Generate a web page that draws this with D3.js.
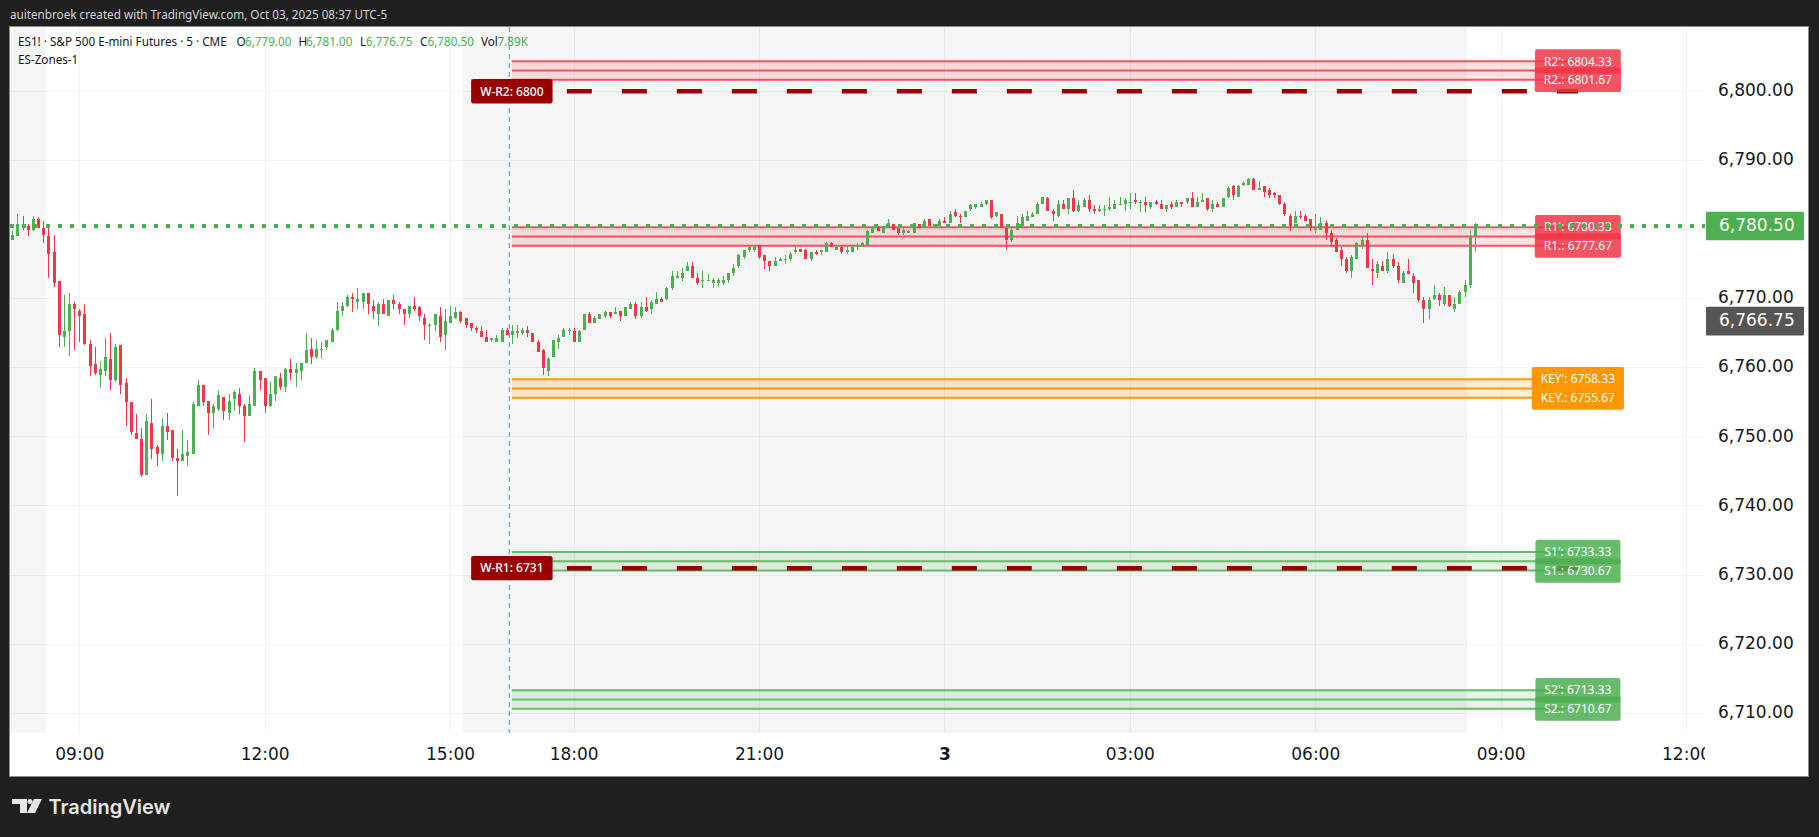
<!DOCTYPE html>
<html>
<head>
<meta charset="utf-8">
<script src="https://cdnjs.cloudflare.com/ajax/libs/d3/7.8.5/d3.min.js"></script>
<style>
  html, body { margin: 0; padding: 0; background: #1f1f1f; overflow: hidden; }
  text { font-family: "Noto Sans", sans-serif; }
  .axis text { font-family: "DejaVu Sans", sans-serif; font-size: 17px; fill: #131722; }
  .axis path { display: none; }
</style>
</head>
<body>
<script>
// 5 minute bars, first one is 07:55, last one is 08:35 next day (17:00-18:00 is the session break)
const opens = [
  6778.5,6779,6780.75,6780.5,6780,6781.5,6780.25,6779,6776.75,6772.5,
  6764.5,6765.25,6769.25,6768.25,6767.75,6763.5,6760.5,6759,6759.5,6761.25,
  6758.25,6763.25,6757.75,6755,6750.5,6749.75,6744.5,6752,6748.5,6747.5,
  6751.5,6751,6747,6746.5,6747.25,6747.5,6754.5,6757.5,6755.25,6753.5,
  6754,6755.75,6753.5,6755.5,6756.25,6754.5,6753,6754.5,6759.5,6758.5,
  6754.5,6756.25,6758.5,6757.25,6759.75,6759.25,6759.5,6760.75,6762.75,6761.5,
  6762.5,6763,6763.75,6765.5,6768.25,6769,6770.25,6769.5,6769.5,6770.75,
  6769,6767.75,6769.25,6767.5,6769.75,6769.25,6768.5,6767.75,6769,6768.75,
  6767.25,6766,6766.25,6767.5,6764.75,6766.5,6767.25,6768,6767.25,6766.5,
  6765.75,6765.25,6764.5,6764,6763.75,6763.75,6765.5,6764.75,6765,6765,
  6765.5,6765,6763.75,6762.5,6759.5,6761.5,6763.75,6764.5,6765.25,6765.25,
  6763.75,6765.5,6767.75,6766.5,6767,6767.5,6768,6767.75,6768.25,6767.5,
  6768.5,6769.25,6767.5,6768.75,6768.5,6769.25,6770,6770,6771.5,6773,
  6773,6774,6774.75,6773,6772.5,6772.5,6772.25,6772.25,6772.25,6772.75,
  6773.75,6774.75,6776,6777,6777,6777.75,6776.25,6775.5,6774.75,6775.5,
  6775.75,6775.75,6776.75,6777.25,6777,6775.75,6776.75,6776.75,6776.75,6778,
  6777,6777.5,6776.75,6776.75,6777.5,6777.5,6777.75,6779.5,6780.25,6779.5,
  6780.25,6780.75,6780.25,6779.5,6779.5,6779.5,6780.75,6780.25,6781.5,6780.5,
  6780.5,6781.25,6781,6782.5,6782,6781.75,6783,6783.25,6783.25,6783.75,
  6784.25,6782,6782.25,6780.25,6778.5,6780,6780.5,6781.25,6781.75,6782.25,
  6783.75,6784.5,6782.75,6782,6783.75,6783,6784.5,6782.75,6783.25,6784.25,
  6783,6782.75,6783,6783,6783,6783.75,6783.75,6784,6784.25,6784,
  6784,6783.25,6784,6783.75,6783,6783.75,6783.25,6784,6784,6784.5,
  6783.25,6784,6784.5,6783,6783.75,6783.25,6784.75,6786.25,6784.75,6786.5,
  6786.5,6787.25,6785.75,6786.25,6785.75,6785.25,6785,6783.75,6782,6781,
  6782,6782,6781.5,6780,6780,6781,6779.5,6778.5,6777,6775.75,
  6774,6775.75,6777.75,6778.5,6774.25,6773.75,6774.75,6774,6775.75,6774.75,
  6772.25,6774,6773.25,6772.75,6769.75,6768.5,6770,6770.5,6769.25,6770.5,
  6768.5,6769.25,6771,6772,6779
];
const highs = [
  6779.75,6782.25,6782,6780.75,6782,6781.75,6781.25,6780.25,6779.25,6772.5,
  6770.5,6770.75,6769.5,6768.5,6769.25,6764,6763,6761,6764.25,6765,
  6763.5,6763.25,6758.5,6755,6753.25,6751.25,6753.25,6755.5,6748.75,6752.75,
  6753.5,6751,6748.25,6751,6749.5,6755,6758.25,6757.5,6755.25,6754.75,
  6756.75,6755.75,6756.25,6756.75,6757,6754.75,6756,6760,6759.5,6758.5,
  6758,6758.75,6759.25,6760,6761.25,6760.75,6760.75,6765,6764.25,6764,
  6763.75,6764,6765.75,6769.5,6769.5,6770.5,6770.75,6771.5,6770.75,6770.75,
  6769.75,6769.5,6770,6769.75,6770.5,6769.5,6768.5,6769,6770.25,6769,
  6767.75,6766.5,6767.75,6768.75,6768.5,6769,6768.75,6768.25,6767.25,6766.5,
  6766,6766,6765.5,6764.25,6764.75,6765.75,6765.75,6766.25,6766.25,6765.75,
  6766,6765,6764,6762.75,6761.5,6764,6764.75,6765.75,6765.75,6765.75,
  6765.5,6767.75,6768,6767.5,6767.75,6768.25,6768,6768.75,6768.25,6768.75,
  6769.5,6769.5,6769.5,6770.25,6769.75,6771,6770.25,6771.75,6774,6774,
  6774.5,6775.25,6775.25,6773.75,6774,6773.5,6773,6773,6773.25,6773.75,
  6775,6776.5,6777,6777.75,6777.75,6777.75,6776.25,6775.5,6776,6776,
  6776.25,6776.75,6777.75,6777.25,6777.25,6776.75,6777,6777,6778.25,6778.25,
  6777.75,6777.75,6777.75,6777.75,6778,6778.25,6780,6780.5,6780.5,6780.5,
  6781.5,6780.75,6780.25,6780.25,6780,6781,6780.75,6781.5,6781.5,6780.75,
  6781.5,6781.75,6782.75,6783,6782.25,6782.75,6783.75,6783.75,6784,6784.25,
  6784.25,6782.5,6782.25,6780.25,6780.25,6782,6782.25,6782.75,6782.5,6784,
  6784.75,6784.75,6783,6784.25,6784.25,6784.5,6785.75,6784.25,6784.5,6785,
  6783.5,6783.5,6783.5,6784.75,6784.25,6784.75,6784.5,6785.25,6785.25,6784.25,
  6784.75,6784,6784.25,6784.25,6783.5,6784,6784.25,6784,6784.5,6785.5,
  6784.75,6785.25,6784.5,6784.25,6784,6784.5,6786.25,6786.5,6786.5,6787,
  6787.5,6787.5,6787,6786.25,6786,6785.5,6785,6784,6782.25,6782.75,
  6782.75,6782.25,6781.5,6782.25,6781.75,6781.25,6780,6778.75,6777.5,6776,
  6776.25,6778.25,6779,6779.5,6775.75,6775.5,6775.5,6776.75,6776.5,6775.25,
  6774,6775.75,6773.75,6772.75,6770.25,6770.25,6772,6770.75,6771.75,6770.5,
  6770.25,6771.25,6772.75,6780,6781
];
const lows = [
  6778.5,6779,6780,6779,6779.75,6780.25,6778,6773,6771.75,6763,
  6763,6761.75,6762.5,6763.75,6763.25,6758.75,6759,6757,6758.75,6756.75,
  6758,6756.25,6751.5,6750.25,6749.75,6744.25,6744.5,6746.75,6745.75,6746.5,
  6749.5,6746.5,6741.5,6746.5,6745.75,6747.5,6754.5,6754.5,6750.25,6751.25,
  6753.75,6752.5,6752.5,6753.75,6753.25,6749.25,6753,6754.5,6756.75,6753.5,
  6754.25,6755.25,6756.75,6756.5,6758.25,6757.25,6758.25,6760.75,6760.5,6761.25,
  6761.25,6762.5,6763.75,6765.25,6767.5,6768.75,6768,6768.5,6768.5,6767.75,
  6767,6766,6767.75,6767.5,6768.5,6767.75,6766.25,6767.25,6768.25,6766.75,
  6764,6763.5,6765.25,6763.75,6762.5,6766.5,6767,6766.5,6765.75,6765.25,
  6765,6764.5,6763.75,6763.75,6763.75,6763.75,6764.75,6763.5,6764.25,6764.75,
  6764.5,6763.75,6762.25,6759,6758.75,6761.5,6762.75,6764.5,6764.75,6763.75,
  6763.75,6765.5,6766.5,6766.5,6767,6767.25,6767.25,6767.75,6766.75,6767.5,
  6768.5,6767,6767.25,6768,6767.75,6769.25,6769.5,6769.75,6771.25,6773,
  6772.5,6774,6773,6772,6771.5,6772.5,6771.5,6771.75,6772,6772.25,
  6773.25,6774.5,6775.75,6776.75,6776.75,6775.75,6774.25,6774,6774.75,6775.5,
  6775,6775.5,6776.5,6776.75,6775.75,6775.5,6776.25,6776.25,6776.75,6777.5,
  6777,6776.5,6776.5,6776.75,6777,6777.5,6777.5,6779.5,6779.75,6779.5,
  6780.25,6780,6779.25,6779.25,6779.5,6779.5,6780.25,6780.25,6780.5,6780.25,
  6780.5,6781,6781,6781.75,6781,6781.75,6782.75,6783,6783.25,6783.5,
  6781.5,6781.75,6780.25,6777,6778.25,6780,6780.25,6781.25,6781.75,6782.25,
  6783.75,6782.75,6781.25,6781.75,6783,6782.25,6782.5,6782.5,6783.25,6782.5,
  6782.25,6782.5,6782,6782.75,6783,6783.5,6782.75,6783,6783.75,6782.5,
  6782.5,6783,6783.5,6783,6782.5,6783,6783.25,6783.25,6783.75,6783.25,
  6783.25,6784,6782.75,6782.5,6783.25,6783.25,6784.5,6784.25,6784.75,6786.25,
  6786.5,6785.75,6785.75,6784.75,6784.5,6784.5,6783.5,6782,6779.75,6781,
  6781.5,6781.25,6779.75,6779.5,6780,6778.5,6777.5,6776.75,6774.75,6773.75,
  6773,6775.75,6777.25,6774.5,6772,6773,6774,6773.75,6774.5,6772.25,
  6772.25,6773.5,6770.75,6769.5,6766.5,6767,6769.75,6769,6769,6768.75,
  6768,6769.25,6770.25,6771.5,6776.75
];
const closes = [
  6779.25,6780.75,6780.25,6780,6781.5,6780.25,6779.25,6776.5,6772.25,6764.75,
  6765.25,6769.25,6768.5,6767.5,6763.5,6760.25,6759.25,6759.75,6761.5,6758.25,
  6763,6757.5,6755,6750.75,6749.75,6744.5,6752.25,6748.25,6747.5,6751.5,
  6750.75,6747,6746.5,6747.5,6747.75,6754.75,6757.5,6755,6753.5,6754.5,
  6756,6753.75,6755.25,6756.5,6754.5,6753,6754.75,6759.5,6758.25,6754.5,
  6756.25,6758.75,6757.25,6759.75,6759.25,6759.75,6760.75,6762.5,6761.5,6762.75,
  6762.75,6764,6765.5,6768.25,6769,6770.25,6770,6770,6770.75,6769.25,
  6768.25,6769.25,6767.75,6769.75,6769.25,6768.5,6767.75,6769,6768.5,6767.5,
  6766.25,6766.25,6767.75,6764.5,6766.75,6767.5,6768,6766.75,6766.25,6765.75,
  6765.5,6764.5,6763.75,6764.25,6764.25,6765.5,6764.75,6765.25,6765.25,6765.5,
  6765,6763.75,6762.25,6760,6761.25,6764,6764.25,6765.5,6765.5,6763.75,
  6765.25,6767.75,6766.5,6767.25,6767.75,6768,6767.5,6768,6767.5,6768.75,
  6769.25,6767.5,6768.75,6768.25,6769.5,6770,6769.5,6771.5,6773.25,6773.25,
  6773.75,6774.75,6773,6772.25,6772.75,6772.75,6772.75,6772.75,6772.75,6773.75,
  6774.5,6776.25,6777,6777.5,6777.5,6776,6775.5,6774.75,6775.5,6775.75,
  6775.75,6776.5,6777,6776.75,6775.75,6776.75,6776.5,6777,6778,6777.5,
  6777.5,6776.75,6777,6777.5,6777.75,6778,6779.75,6780.25,6779.75,6780.5,
  6781,6780,6779.5,6780,6779.75,6781,6780.25,6781.25,6780.5,6780.75,
  6781.25,6781,6782.25,6782,6781.75,6782.75,6783.5,6783.75,6783.75,6784.25,
  6781.75,6782.5,6780.25,6778.5,6780,6781,6781.75,6782,6782.25,6783.75,
  6784.75,6782.75,6782.25,6783.75,6783,6784.5,6782.75,6783.5,6784.25,6783,
  6782.75,6783,6783,6783.25,6783.75,6783.75,6784.25,6784,6784,6784,
  6783.5,6784,6783.75,6783,6783.5,6783.25,6784,6783.75,6784.5,6783.25,
  6784,6784.25,6783,6783.75,6783.25,6784.5,6786,6785,6786.25,6786.75,
  6787.25,6785.75,6786,6785.5,6785,6785,6783.75,6782.25,6780.5,6782,
  6781.75,6781.25,6780.25,6780.25,6781,6779.5,6778.25,6776.75,6775.75,6774,
  6776,6778,6778.5,6774.5,6774,6775,6774,6775.75,6774.75,6772.75,
  6773.75,6773.5,6772.25,6769.75,6768.5,6769.75,6770.5,6769.75,6770.5,6769,
  6769.25,6771,6772,6779,6780.5
];

const priceTicks = [6800, 6790, 6780, 6770, 6760, 6750, 6740, 6730, 6720, 6710];
const timeBars = [13, 49, 85, 109, 145, 181, 217, 253, 289, 325];
const timeLabels = ['09:00', '12:00', '15:00', '18:00', '21:00', '3', '03:00', '06:00', '09:00', '12:00'];
const sessionStart = [-1, 87.5];
const sessionEnd = [6.5, 282.5];

const zoneNames = ['R2', 'R1', 'KEY', 'S1', 'S2'];
const zoneTops = [6804.33, 6780.33, 6758.33, 6733.33, 6713.33];
const zoneMids = [6803, 6779, 6757, 6732, 6712];
const zoneBottoms = [6801.67, 6777.67, 6755.67, 6730.67, 6710.67];
const weeklyNames = ['W-R2', 'W-R1'];
const weeklyLevels = [6800, 6731];

const lastPrice = 6780.5;
const markPrice = 6766.75;
const cursorBar = 96.5;
const zoneFromBar = 97;
const zoneToBar = 304;

const zoneColor = { R2: '#f7525f', R1: '#f7525f', KEY: '#ff9800', S1: '#66bb6a', S2: '#66bb6a' };
const zoneLabel = { R2: '#f23645', R1: '#f23645', KEY: '#ff9800', S1: '#4caf50', S2: '#4caf50' };
const upColor = '#4caf50';
const downColor = '#f23645';

const paneLeft = 10;
const paneRight = 1705;
const paneTop = 27;
const paneBottom = 733;

const svg = d3.select('body')
  .append('svg')
    .attr('width', 1819)
    .attr('height', 837)
    .style('display', 'block');

const x = d3.scaleLinear().domain([0, 284]).range([12.3, 1474.9]);
const y = d3.scaleLinear().domain([6710, 6800]).range([713.3, 91.3]);

svg.append('defs').append('clipPath')
  .attr('id', 'pane')
  .append('rect')
    .attr('x', paneLeft)
    .attr('y', paneTop)
    .attr('width', paneRight - paneLeft)
    .attr('height', 776 - paneTop);

// chart card
svg.append('rect')
  .attr('x', 9.5).attr('y', 26.5)
  .attr('width', 1799).attr('height', 750)
  .attr('fill', '#fff')
  .attr('stroke', '#8a8a8a');

const pane = svg.append('g').attr('clip-path', 'url(#pane)');

// session shading
pane.selectAll('.session').data(sessionStart).enter()
  .append('rect')
    .attr('class', 'session')
    .attr('x', d => x(d))
    .attr('y', paneTop)
    .attr('width', (d, n) => x(sessionEnd[n]) - x(d))
    .attr('height', paneBottom - paneTop)
    .attr('fill', '#f5f5f5');

// grid
pane.selectAll('.grid-x').data(timeBars).enter()
  .append('line')
    .attr('x1', d => Math.round(x(d)) + 0.5)
    .attr('x2', d => Math.round(x(d)) + 0.5)
    .attr('y1', paneTop)
    .attr('y2', paneBottom)
    .attr('stroke', 'rgba(42,46,57,0.06)');

pane.selectAll('.grid-y').data(priceTicks).enter()
  .append('line')
    .attr('x1', paneLeft)
    .attr('x2', paneRight)
    .attr('y1', d => Math.floor(y(d)) + 0.5)
    .attr('y2', d => Math.floor(y(d)) + 0.5)
    .attr('stroke', 'rgba(42,46,57,0.06)');

// session cursor
pane.append('line')
  .attr('x1', x(cursorBar)).attr('x2', x(cursorBar))
  .attr('y1', paneTop).attr('y2', paneBottom)
  .attr('stroke', '#5a8ad6')
  .attr('stroke-width', 1)
  .attr('stroke-dasharray', '5,4');

// zones
const zones = pane.selectAll('.zone').data(zoneNames).enter()
  .append('g').attr('class', 'zone');

zones.append('rect')
  .attr('x', x(zoneFromBar))
  .attr('y', (d, n) => y(zoneTops[n]))
  .attr('width', x(zoneToBar) - x(zoneFromBar))
  .attr('height', (d, n) => y(zoneBottoms[n]) - y(zoneTops[n]))
  .attr('fill', d => zoneColor[d])
  .attr('fill-opacity', 0.17);

[zoneTops, zoneMids, zoneBottoms].forEach(level => {
  zones.append('line')
    .attr('x1', x(zoneFromBar))
    .attr('x2', x(zoneToBar))
    .attr('y1', (d, n) => y(level[n]))
    .attr('y2', (d, n) => y(level[n]))
    .attr('stroke', d => zoneColor[d])
    .attr('stroke-width', 2);
});

// weekly levels
pane.selectAll('.weekly').data(weeklyLevels).enter()
  .append('line')
    .attr('class', 'weekly')
    .attr('x1', x(zoneFromBar))
    .attr('x2', x(zoneToBar))
    .attr('y1', d => y(d))
    .attr('y2', d => y(d))
    .attr('stroke', '#990000')
    .attr('stroke-width', 4.5)
    .attr('stroke-dasharray', '25,30');

// candles
const candles = pane.selectAll('.candle').data(d3.range(opens.length)).enter()
  .append('g')
    .attr('class', 'candle')
    .attr('fill', d => closes[d] >= opens[d] ? upColor : downColor)
    .attr('shape-rendering', 'crispEdges');

candles.append('rect')
  .attr('x', d => Math.round(x(d)))
  .attr('width', 1)
  .attr('y', d => Math.round(y(highs[d])))
  .attr('height', d => Math.max(1, Math.round(y(lows[d])) - Math.round(y(highs[d]))));

candles.append('rect')
  .attr('x', d => Math.round(x(d)) - 1)
  .attr('width', 3)
  .attr('y', d => Math.round(y(Math.max(opens[d], closes[d]))))
  .attr('height', d => Math.max(1, Math.round(y(Math.min(opens[d], closes[d]))) - Math.round(y(Math.max(opens[d], closes[d])))));

// little text boxes that sit centred on a bar index and a price
const label = (text, bar, price, fill, opacity, weight) => {
  const g = pane.append('g').attr('transform', `translate(${x(bar)}, ${y(price)})`);
  const box = g.append('rect').attr('fill', fill).attr('fill-opacity', opacity).attr('rx', 2);
  const t = g.append('text')
    .attr('text-anchor', 'middle')
    .attr('dy', '0.35em')
    .attr('fill', '#fff')
    .attr('font-size', 12)
    .attr('font-weight', weight)
    .text(text);
  const w = t.node().getComputedTextLength() + 18;
  box.attr('x', -w / 2).attr('y', -12.2).attr('width', w).attr('height', 24.4);
};

zoneNames.forEach((name, n) => {
  label(`${name}': ${zoneTops[n]}`, zoneToBar, zoneTops[n], zoneLabel[name], name === 'KEY' ? 1 : 0.85, 400);
  label(`${name}.: ${zoneBottoms[n]}`, zoneToBar, zoneBottoms[n], zoneLabel[name], name === 'KEY' ? 1 : 0.85, 400);
});
weeklyNames.forEach((name, n) => {
  label(`${name}: ${weeklyLevels[n]}`, zoneFromBar, weeklyLevels[n], '#990000', 1, 500);
});

// last price dots go over everything in the pane
pane.append('line')
  .attr('x1', paneLeft).attr('x2', paneRight)
  .attr('y1', y(lastPrice)).attr('y2', y(lastPrice))
  .attr('stroke', upColor)
  .attr('stroke-width', 4)
  .attr('stroke-dasharray', '4,8');

// axes
const yAxis = d3.axisRight(y)
  .tickValues(priceTicks)
  .tickFormat(d3.format(',.2f'))
  .tickSize(0)
  .tickPadding(13);

svg.append('g')
  .attr('class', 'axis axis-y')
  .attr('transform', `translate(${paneRight}, 0)`)
  .call(yAxis)
  .selectAll('text')
    .attr('dy', '0.25em');

const xAxis = d3.axisBottom(x)
  .tickValues(timeBars)
  .tickFormat((d, n) => timeLabels[n])
  .tickSize(0)
  .tickPadding(14.5);

svg.append('g')
  .attr('clip-path', 'url(#pane)')
  .append('g')
    .attr('class', 'axis axis-x')
    .attr('transform', `translate(0, ${paneBottom})`)
    .call(xAxis);

svg.selectAll('.axis-x .tick text')
  .filter((d, n) => timeLabels[n] === '3')
  .attr('font-weight', 700);

// price flags
const flag = (price, fill) => {
  svg.append('rect')
    .attr('x', 1706).attr('y', y(price) - 14.3)
    .attr('width', 98).attr('height', 28.6)
    .attr('rx', 1)
    .attr('fill', fill);
  svg.append('text')
    .attr('x', 1719).attr('y', y(price))
    .attr('dy', '0.28em')
    .attr('fill', '#fff')
    .style('font-family', '"DejaVu Sans", sans-serif')
    .style('font-size', '17px')
    .text(d3.format(',.2f')(price));
};
flag(lastPrice, upColor);
flag(markPrice, '#555555');

// header + legend
svg.append('text')
  .attr('x', 10).attr('y', 19)
  .attr('fill', '#d1d4dc')
  .attr('font-size', 11.7)
  .text('auitenbroek created with TradingView.com, Oct 03, 2025 08:37 UTC-5');

const legendX = [18, 236.5, 245, 298.5, 306, 360, 366, 420, 427.5, 481, 497.5];
const legendText = ['ES1! · S&P 500 E-mini Futures · 5 · CME', 'O', '6,779.00', 'H', '6,781.00', 'L', '6,776.75', 'C', '6,780.50', 'Vol', '7.89K'];

svg.selectAll('.legend').data(legendText).enter()
  .append('text')
    .attr('class', 'legend')
    .attr('x', (d, n) => legendX[n])
    .attr('y', 46)
    .attr('font-size', 11.7)
    .attr('fill', (d, n) => n > 0 && n % 2 === 0 ? upColor : '#131722')
    .text(d => d);

svg.append('text')
  .attr('x', 18).attr('y', 63.5)
  .attr('font-size', 11.7)
  .attr('fill', '#131722')
  .text('ES-Zones-1');

// footer logo
const logo = svg.append('g').attr('fill', '#e6e6e6');
logo.append('path').attr('d', 'M12 799H27V813H20V804H12Z');
logo.append('circle').attr('cx', 30).attr('cy', 801.5).attr('r', 2.5);
logo.append('path').attr('d', 'M34 799H42L35 813H27Z');
logo.append('text')
  .attr('x', 48.5).attr('y', 814)
  .attr('font-size', 20)
  .attr('font-weight', 600)
  .style('font-family', 'Inter, sans-serif')
  .text('TradingView');
</script>
</body>
</html>
